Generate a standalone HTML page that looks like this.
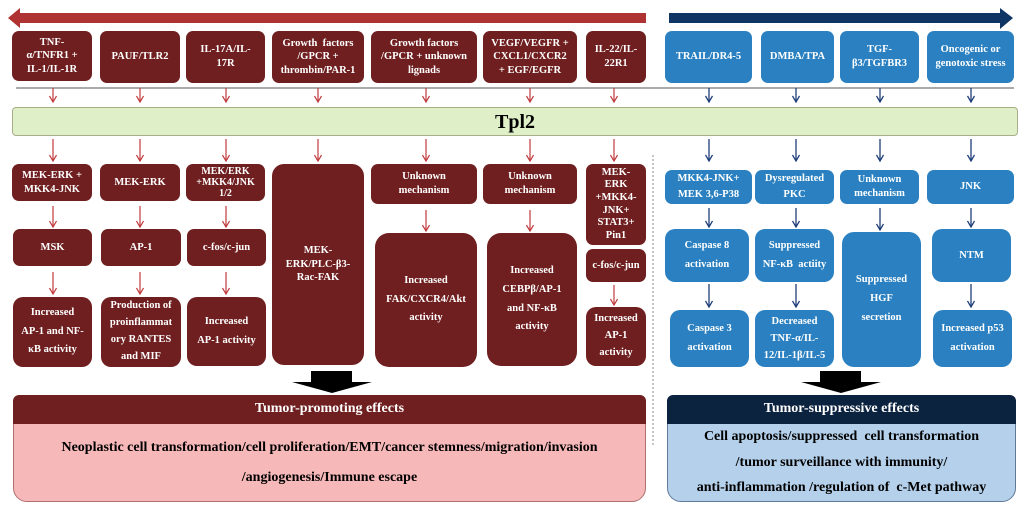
<!DOCTYPE html>
<html><head><meta charset="utf-8"><style>
body{margin:0;width:1024px;height:513px;background:#fff;position:relative;overflow:hidden;font-family:"Liberation Serif",serif;font-weight:bold;}
.b{position:absolute;display:flex;align-items:center;justify-content:center;text-align:center;color:#fff;font-size:10.5px;line-height:1.3;border-radius:7px;box-sizing:border-box;padding:0 2px;}
.r{background:#6f1f1f;}
.u{background:#2a80c0;}
.tall{line-height:1.8;}
svg{position:absolute;left:0;top:0;}
</style></head><body>
<svg width="1024" height="513">
<defs>
<marker id="ar" markerWidth="8" markerHeight="8" refX="7" refY="4" orient="auto" markerUnits="userSpaceOnUse"><path d="M1,0.5 L7,4 L1,7.5" fill="none" stroke="#c0393b" stroke-width="1.2"/></marker>
<marker id="ab" markerWidth="8" markerHeight="8" refX="7" refY="4" orient="auto" markerUnits="userSpaceOnUse"><path d="M1,0.5 L7,4 L1,7.5" fill="none" stroke="#1f3f7a" stroke-width="1.3"/></marker>
</defs>
<polygon points="8,18 20,8 20,13 646,13 646,23 20,23 20,28" fill="#b03333"/>
<polygon points="669,13 1000,13 1000,8 1013,18 1000,29 1000,23 669,23" fill="#0e3563"/>
<line x1="16" y1="88" x2="1014" y2="88" stroke="#777" stroke-width="1.2"/>
<line x1="653" y1="155" x2="653" y2="445" stroke="#888" stroke-width="1" stroke-dasharray="2,2"/>
<g stroke="#c0393b" stroke-width="1.2" marker-end="url(#ar)">
<line x1="53" y1="88" x2="53" y2="102"/><line x1="140" y1="88" x2="140" y2="102"/><line x1="226" y1="88" x2="226" y2="102"/><line x1="318" y1="88" x2="318" y2="102"/><line x1="426" y1="88" x2="426" y2="102"/><line x1="530" y1="88" x2="530" y2="102"/><line x1="614" y1="88" x2="614" y2="102"/>
<line x1="53" y1="139" x2="53" y2="161"/><line x1="140" y1="139" x2="140" y2="161"/><line x1="226" y1="139" x2="226" y2="161"/><line x1="318" y1="139" x2="318" y2="161"/><line x1="426" y1="139" x2="426" y2="161"/><line x1="530" y1="139" x2="530" y2="161"/><line x1="614" y1="139" x2="614" y2="161"/>
<line x1="53" y1="206" x2="53" y2="227"/><line x1="140" y1="206" x2="140" y2="227"/><line x1="226" y1="206" x2="226" y2="227"/>
<line x1="53" y1="272" x2="53" y2="294"/><line x1="140" y1="272" x2="140" y2="294"/><line x1="226" y1="272" x2="226" y2="294"/>
<line x1="426" y1="210" x2="426" y2="231"/><line x1="530" y1="210" x2="530" y2="231"/>
<line x1="614" y1="285" x2="614" y2="305"/>
</g>
<g stroke="#1f3f7a" stroke-width="1.3" marker-end="url(#ab)">
<line x1="709" y1="88" x2="709" y2="102"/><line x1="796" y1="88" x2="796" y2="102"/><line x1="880" y1="88" x2="880" y2="102"/><line x1="971" y1="88" x2="971" y2="102"/>
<line x1="709" y1="139" x2="709" y2="161"/><line x1="796" y1="139" x2="796" y2="161"/><line x1="880" y1="139" x2="880" y2="161"/><line x1="971" y1="139" x2="971" y2="161"/>
<line x1="709" y1="208" x2="709" y2="227"/><line x1="796" y1="208" x2="796" y2="227"/><line x1="880" y1="208" x2="880" y2="230"/><line x1="971" y1="208" x2="971" y2="227"/>
<line x1="709" y1="284" x2="709" y2="307"/><line x1="796" y1="284" x2="796" y2="307"/><line x1="971" y1="284" x2="971" y2="307"/>
</g>
<polygon points="311,371 352,371 352,382 372,382 332,393 292,382 311,382" fill="#000"/>
<polygon points="820,371 861,371 861,382 881,382 841,393 801,382 820,382" fill="#000"/>
</svg>

<div class="b" style="left:12px;top:107px;width:1006px;height:29px;background:#dff0c8;border:1px solid #a8ae86;border-radius:4px;color:#000;font-size:20px;">Tpl2</div>

<div class="b r" style="left:12px;top:31px;width:80px;height:50px;">TNF-<br>α/TNFR1 +<br>IL-1/IL-1R</div>
<div class="b r" style="left:100px;top:31px;width:80px;height:52px;">PAUF/TLR2</div>
<div class="b r" style="left:186px;top:31px;width:79px;height:52px;">IL-17A/IL-<br>17R</div>
<div class="b r" style="left:272px;top:31px;width:92px;height:52px;">Growth &nbsp;factors<br>/GPCR +<br>thrombin/PAR-1</div>
<div class="b r" style="left:371px;top:31px;width:106px;height:52px;">Growth factors<br>/GPCR + unknown<br>lignads</div>
<div class="b r" style="left:483px;top:31px;width:94px;height:52px;">VEGF/VEGFR +<br>CXCL1/CXCR2<br>+ EGF/EGFR</div>
<div class="b r" style="left:586px;top:31px;width:60px;height:52px;">IL-22/IL-<br>22R1</div>
<div class="b u" style="left:665px;top:31px;width:87px;height:52px;">TRAIL/DR4-5</div>
<div class="b u" style="left:761px;top:31px;width:73px;height:52px;">DMBA/TPA</div>
<div class="b u" style="left:840px;top:31px;width:79px;height:52px;">TGF-<br>β3/TGFBR3</div>
<div class="b u" style="left:927px;top:31px;width:87px;height:52px;">Oncogenic or<br>genotoxic stress</div>

<div class="b r" style="left:12px;top:164px;width:80px;height:37px;">MEK-ERK +<br>MKK4-JNK</div>
<div class="b r" style="left:100px;top:164px;width:80px;height:37px;">MEK-ERK</div>
<div class="b r" style="left:186px;top:164px;width:79px;height:37px;line-height:1.1;font-size:10px;">MEK/ERK<br>+MKK4/JNK<br>1/2</div>
<div class="b r" style="left:272px;top:164px;width:92px;height:201px;border-radius:12px;">MEK-<br>ERK/PLC-β3-<br>Rac-FAK</div>
<div class="b r" style="left:371px;top:164px;width:106px;height:40px;">Unknown<br>mechanism</div>
<div class="b r" style="left:483px;top:164px;width:94px;height:40px;">Unknown<br>mechanism</div>
<div class="b r" style="left:586px;top:164px;width:60px;height:81px;line-height:1.2;">MEK-<br>ERK<br>+MKK4-<br>JNK+<br>STAT3+<br>Pin1</div>

<div class="b r" style="left:13px;top:229px;width:79px;height:37px;">MSK</div>
<div class="b r" style="left:101px;top:229px;width:80px;height:37px;">AP-1</div>
<div class="b r" style="left:187px;top:229px;width:79px;height:37px;">c-fos/c-jun</div>
<div class="b r tall" style="left:375px;top:233px;width:102px;height:134px;border-radius:14px;">Increased<br>FAK/CXCR4/Akt<br>activity</div>
<div class="b r tall" style="left:487px;top:233px;width:90px;height:133px;border-radius:14px;">Increased<br>CEBPβ/AP-1<br>and NF-κB<br>activity</div>
<div class="b r" style="left:586px;top:249px;width:60px;height:33px;">c-fos/c-jun</div>

<div class="b r tall" style="left:13px;top:297px;width:79px;height:70px;border-radius:10px;">Increased<br>AP-1 and NF-<br>κB activity</div>
<div class="b r" style="left:101px;top:297px;width:80px;height:70px;border-radius:10px;line-height:1.6;">Production of<br>proinflammat<br>ory RANTES<br>and MIF</div>
<div class="b r tall" style="left:187px;top:297px;width:79px;height:69px;border-radius:10px;">Increased<br>AP-1 activity</div>
<div class="b r" style="left:586px;top:307px;width:60px;height:59px;border-radius:10px;line-height:1.6;">Increased<br>AP-1<br>activity</div>

<div class="b u" style="left:665px;top:170px;width:87px;height:34px;line-height:1.5;">MKK4-JNK+<br>MEK 3,6-P38</div>
<div class="b u" style="left:755px;top:170px;width:79px;height:34px;line-height:1.5;">Dysregulated<br>PKC</div>
<div class="b u" style="left:840px;top:170px;width:79px;height:34px;">Unknown<br>mechanism</div>
<div class="b u" style="left:927px;top:170px;width:87px;height:34px;">JNK</div>

<div class="b u tall" style="left:665px;top:229px;width:84px;height:53px;border-radius:10px;">Caspase 8<br>activation</div>
<div class="b u tall" style="left:755px;top:229px;width:79px;height:53px;border-radius:10px;">Suppressed<br>NF-κB &nbsp;actiity</div>
<div class="b u tall" style="left:842px;top:232px;width:79px;height:135px;border-radius:12px;">Suppressed<br>HGF<br>secretion</div>
<div class="b u" style="left:932px;top:229px;width:79px;height:53px;border-radius:10px;">NTM</div>

<div class="b u tall" style="left:670px;top:310px;width:79px;height:57px;border-radius:10px;">Caspase 3<br>activation</div>
<div class="b u" style="left:755px;top:310px;width:79px;height:57px;border-radius:10px;line-height:1.65;">Decreased<br>TNF-α/IL-<br>12/IL-1β/IL-5</div>
<div class="b u tall" style="left:933px;top:310px;width:79px;height:57px;border-radius:10px;">Increased p53<br>activation</div>

<div class="b" style="left:13px;top:423px;width:633px;height:79px;background:#f6b8b8;border:1px solid #b07070;border-radius:0 0 14px 14px;color:#000;font-size:14px;line-height:2.1;">Neoplastic cell transformation/cell proliferation/EMT/cancer stemness/migration/invasion<br>/angiogenesis/Immune escape</div>
<div class="b" style="left:13px;top:395px;width:633px;height:29px;background:#6f1f1f;border-radius:6px 6px 0 0;font-size:14px;">Tumor-promoting effects</div>

<div class="b" style="left:667px;top:423px;width:349px;height:79px;background:#b4d0ea;border:1px solid #5f7a99;border-radius:0 0 14px 14px;color:#000;font-size:14px;line-height:1.85;">Cell apoptosis/suppressed &nbsp;cell transformation<br>/tumor surveillance with immunity/<br>anti-inflammation /regulation of &nbsp;c-Met pathway</div>
<div class="b" style="left:667px;top:395px;width:349px;height:29px;background:#0c2340;border-radius:6px 6px 0 0;font-size:14px;">Tumor-suppressive effects</div>
</body></html>
